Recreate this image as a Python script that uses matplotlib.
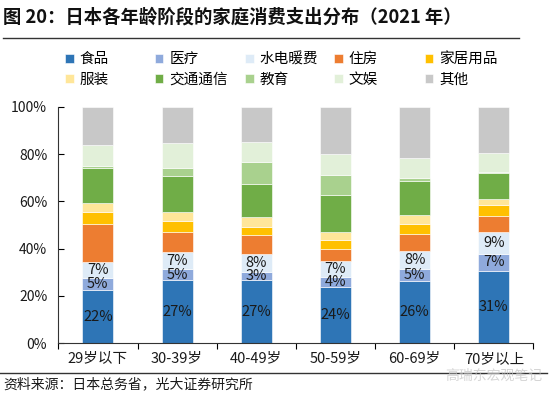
import matplotlib
matplotlib.use("Agg")
import matplotlib.pyplot as plt
import numpy as np

plt.rcParams['font.family'] = ['Noto Sans CJK SC', 'DejaVu Sans']

ages = ['29岁以下', '30-39岁', '40-49岁', '50-59岁', '60-69岁', '70岁以上']
items = ['食品', '医疗', '水电暖费', '住房', '家居用品',
         '服装', '交通通信', '教育', '文娱', '其他']

# share of household spending, %
food = [22.4, 26.6, 26.6, 23.9, 26.2, 30.6]
medical = [5.1, 4.9, 3.4, 4.0, 5.3, 7.1]
utility = [6.8, 6.9, 7.6, 6.9, 7.6, 9.4]
housing = [16.1, 8.7, 8.0, 5.1, 6.9, 6.9]
household = [4.9, 4.6, 3.7, 3.7, 4.4, 4.5]
clothing = [4.0, 3.9, 4.1, 3.4, 3.7, 2.3]
transport = [14.8, 15.2, 14.1, 15.8, 14.5, 11.1]
education = [1.0, 3.4, 9.1, 8.5, 1.1, 0.3]
culture = [8.6, 10.3, 8.6, 8.5, 8.6, 8.2]
other = [16.3, 15.5, 14.8, 20.2, 21.7, 19.6]

series = [food, medical, utility, housing, household,
          clothing, transport, education, culture, other]
colors = ['#2E75B6', '#8FAADC', '#DEEBF7', '#ED7D31', '#FFC000',
          '#FFE699', '#70AD47', '#A9D18E', '#E2F0D9', '#C8C8C8']

fig = plt.figure(figsize=(5.5, 3.96), dpi=100)
ax = fig.add_axes([0.106, 0.1331, 0.864, 0.5975])

x = np.arange(len(ages))
bottom = np.zeros(len(ages))
bars = []
for vals, c, name in zip(series, colors, items):
    b = ax.bar(x, np.array(vals) / 100, width=0.39, bottom=bottom, color=c,
               edgecolor='white', linewidth=0.4, label=name)
    bars.append(b)
    bottom += np.array(vals) / 100

# value labels on the first three segments
for b, vals in zip(bars[:3], series[:3]):
    ax.bar_label(b, labels=[f'{v:.0f}%' for v in vals], label_type='center',
                 fontsize=10.5, color='#1a1a1a')

ax.set_xlim(-0.5, len(ages) - 0.5)
ax.set_ylim(0, 1)
ax.set_yticks(np.arange(0, 1.01, 0.2))
ax.set_yticklabels([f'{int(round(t * 100))}%' for t in np.arange(0, 1.01, 0.2)],
                   fontsize=10, color='#1a1a1a')
ax.tick_params(axis='y', direction='in', length=4, width=0.8, pad=8)

ax.set_xticks(x)
ax.set_xticklabels(ages, fontsize=10.5, color='#1a1a1a')
ax.set_xticks(np.arange(-0.5, len(ages)), minor=True)
ax.tick_params(axis='x', which='major', length=0, pad=6)
ax.tick_params(axis='x', which='minor', direction='out', length=4, width=0.8)

for s in ['top', 'right']:
    ax.spines[s].set_visible(False)
for s in ['left', 'bottom']:
    ax.spines[s].set_color('#333333')
    ax.spines[s].set_linewidth(0.8)

# legend: five columns of two entries each
col_x = [0.118, 0.281, 0.445, 0.607, 0.772]
for j in range(5):
    hs = [bars[j], bars[j + 5]]
    fig.legend(hs, [items[j], items[j + 5]], loc='upper left',
               bbox_to_anchor=(col_x[j], 0.868), frameon=False, fontsize=10.5,
               handlelength=0.6, handleheight=0.6, handletextpad=0.4,
               labelspacing=0.45, borderaxespad=0, borderpad=0)

fig.text(0.006, 0.957, '图 20：日本各年龄阶段的家庭消费支出分布（2021 年）',
         fontsize=13.2, fontweight='bold', color='#111111', va='center')
fig.add_artist(plt.Line2D([0.006, 0.943], [0.903, 0.903], color='#333333', lw=1.0))
fig.add_artist(plt.Line2D([0.0, 0.995], [0.059, 0.059], color='#333333', lw=1.0))
fig.text(0.006, 0.03, '资料来源：日本总务省，光大证券研究所', fontsize=10,
         color='#1a1a1a', va='center')
fig.text(0.81, 0.05, '高瑞东宏观笔记', fontsize=10, color='#c4c4c4',
         alpha=0.7, va='center')

fig.savefig('out.png', dpi=100)
